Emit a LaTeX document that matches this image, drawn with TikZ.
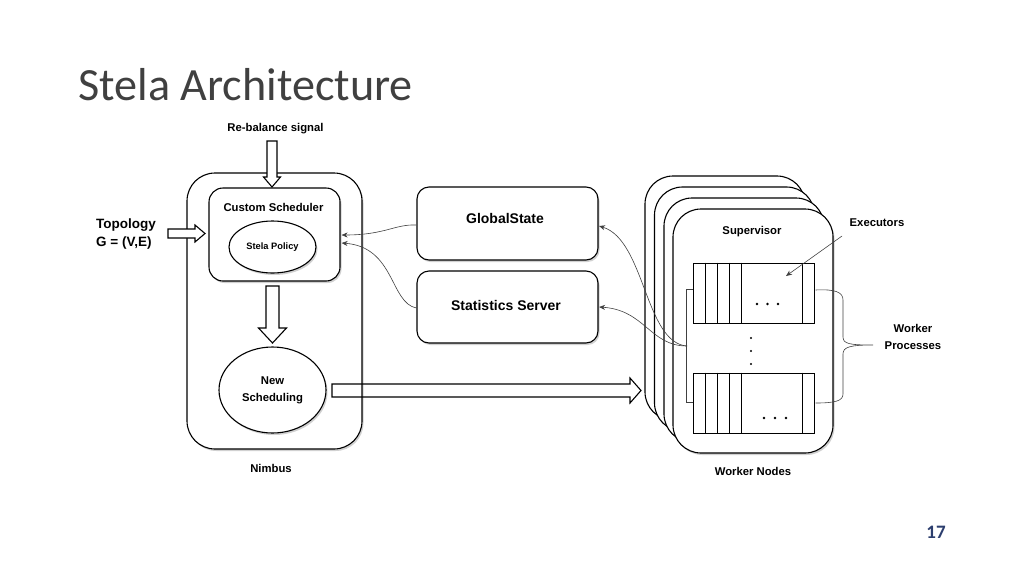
\documentclass[tikz,border=0pt]{standalone}
\usepackage{fontspec}
\setmainfont{Liberation Sans}
\newfontfamily\titlefont{Carlito}
\usetikzlibrary{shadows,arrows.meta,shapes.geometric,calc}
\definecolor{titlegray}{RGB}{64,64,64}
\definecolor{pagenum}{RGB}{44,62,110}
\begin{document}
\begin{tikzpicture}[x=1pt,y=-1pt,
  rbox/.style={draw=black, line width=1.1pt, fill=white, rounded corners=#1, inner sep=0pt,
    drop shadow={shadow xshift=1.5pt, shadow yshift=-2pt, opacity=0.3, fill=black!60}},
  rbox/.default=12pt,
  ovalbox/.style={ellipse, draw=black, line width=1.1pt, fill=white, inner sep=0pt,
    drop shadow={shadow xshift=1.5pt, shadow yshift=-2pt, opacity=0.3, fill=black!60}},
  pbox/.style={draw=black, line width=1pt, fill=white, inner sep=0pt, minimum width=121pt, minimum height=60pt},
  lbl/.style={font=\bfseries\fontsize{11.3}{17}\selectfont, inner sep=0pt, align=center},
  biglbl/.style={font=\bfseries\fontsize{14}{17}\selectfont, inner sep=0pt, align=center},
  blk/.style={draw=black, line width=1.1pt, line join=miter},
  thinline/.style={draw=black!75, line width=0.6pt},
  tipped/.style={-{Stealth[length=6pt,width=5pt]}},
  dotmark/.style={fill=black, draw=none}
]
\useasboundingbox (0,0) rectangle (1024,576);

% title and page number
\node[anchor=base west, inner sep=0pt, text=titlegray, font=\titlefont\fontsize{46.2}{50}\selectfont] (title) at (78,100) {Stela Architecture};
\node[inner sep=0pt, text=pagenum, font=\titlefont\bfseries\fontsize{19}{20}\selectfont] (pnum) at (936,532) {17};

% Nimbus
\node[rbox=28pt, minimum width=175pt, minimum height=276pt] (nimbus) at (274.5,311) {};
\node[rbox=14pt, minimum width=131pt, minimum height=93pt] (sched) at (274.5,234.5) {};
\node[lbl] (schedlbl) at (273.5,207) {Custom Scheduler};
\node[ovalbox, minimum width=87pt, minimum height=52pt, font=\bfseries\fontsize{9.3}{11}\selectfont] (policy) at (272.5,247) {Stela Policy};
\node[ovalbox, minimum width=107pt, minimum height=86pt, lbl] (news) at (272.5,390) {New\\Scheduling};
\node[lbl] (nimbuslbl) at (271,468) {Nimbus};

% Inputs
\node[lbl] (rebal) at (275.5,129) {Re-balance signal};
\node[font=\bfseries\fontsize{13.5}{18}\selectfont, inner sep=0pt, align=left, anchor=west] (topo) at (96,234) {Topology\\G = (V,E)};

% block arrows
\coordinate (ra0) at (272,141); \coordinate (ra1) at (272,187);
\draw[blk, fill=white] ($(ra0)+(-5,0)$) -- ($(ra1)+(-5,-10)$) -- ($(ra1)+(-8.5,-10)$) -- (ra1) -- ($(ra1)+(8.5,-10)$) -- ($(ra1)+(5,-10)$) -- ($(ra0)+(5,0)$) -- cycle;
\coordinate (ta0) at (168,233.5); \coordinate (ta1) at (205,233.5);
\draw[blk, fill=white] ($(ta0)+(0,-4.5)$) -- ($(ta1)+(-10,-4.5)$) -- ($(ta1)+(-10,-8.5)$) -- (ta1) -- ($(ta1)+(-10,8.5)$) -- ($(ta1)+(-10,4.5)$) -- ($(ta0)+(0,4.5)$) -- cycle;
\coordinate (da0) at (272.5,286); \coordinate (da1) at (272.5,343);
\draw[blk, fill=white] ($(da0)+(-6.5,0)$) -- ($(da1)+(-6.5,-15)$) -- ($(da1)+(-14,-15)$) -- (da1) -- ($(da1)+(14,-15)$) -- ($(da1)+(6.5,-15)$) -- ($(da0)+(6.5,0)$) -- cycle;

% middle boxes
\node[rbox=12pt, minimum width=181pt, minimum height=73pt] (global) at (507.5,223.5) {};
\node[biglbl] (globallbl) at (505,218) {GlobalState};
\node[rbox=12pt, minimum width=181pt, minimum height=72pt] (stats) at (507.5,307) {};
\node[biglbl] (statslbl) at (506,305) {Statistics Server};

% worker node stack
\foreach \i/\x/\y in {1/725/298, 2/734.5/309, 3/744/320, 4/753/331}
  \node[rbox=28pt, minimum width=160pt, minimum height=244pt] (wn\i) at (\x,\y) {};
\node[lbl] (suplbl) at (752,232) {Supervisor};
\node[pbox] (pb1) at (753.5,293) {};
\node[pbox] (pb2) at (753.5,403) {};
\foreach \b in {pb1,pb2}
  \foreach \dx in {13,25,37,49,110}
    \draw[line width=0.7pt] ([xshift=\dx pt]\b.north west) -- ([xshift=\dx pt]\b.south west);
\foreach \px in {757,767.5,778} \fill[dotmark] (\px,304) circle (1.4);
\foreach \px in {764,775,786} \fill[dotmark] (\px,418) circle (1.4);
\foreach \py in {338,351,364} \fill[dotmark] (751,\py) circle (1.2);
\node[lbl] (wnlbl) at (753,471) {Worker Nodes};
\node[lbl] (execlbl) at (877,223) {Executors};
\node[lbl] (wplbl) at (913,336.5) {Worker\\Processes};

% big arrow to worker nodes
\coordinate (ba0) at (332,390.5); \coordinate (ba1) at (641,390.5);
\draw[blk] ($(ba0)+(0,-6.5)$) -- ($(ba1)+(-11,-6.5)$) -- ($(ba1)+(-11,-12.5)$) -- (ba1) -- ($(ba1)+(-11,12.5)$) -- ($(ba1)+(-11,6.5)$) -- ($(ba0)+(0,6.5)$) -- cycle;

% connectors into custom scheduler
\draw[thinline, tipped] ($(global.west)+(0,1.5)$) .. controls (395,224) and (385,235) .. ($(sched.east)+(1,0.5)$);
\draw[thinline, tipped] ($(stats.west)+(0,1)$) .. controls (390,303) and (395,247) .. ($(sched.east)+(1,8.5)$);

% brackets around worker processes
\draw[thinline] ($(pb1.west)+(0,-4)$) -- ++(-6,0) -- ($(pb2.west)+(-6,-1)$) -- ++(6,0);
\coordinate (wp) at (687,346);
\coordinate (brtip) at (873,345);
\draw[thinline] ($(pb1.east)+(1,-3)$) .. controls (835,289) and (843,292) .. (843,300) -- (843,337)
  .. controls (843,344) and (850,345) .. (brtip)
  .. controls (850,345) and (843,347) .. (843,354) -- (843,394)
  .. controls (843,401) and (835,403) .. ($(pb2.east)+(1,0)$);

% connectors from worker processes
\draw[thinline, tipped] (wp) .. controls (645,343) and (645,240) .. ($(global.east)+(0.5,2.5)$);
\draw[thinline, tipped] (wp) .. controls (650,346) and (645,310) .. ($(stats.east)+(0.5,0)$);

% executors pointer
\coordinate (exfrom) at (842,236);
\draw[thinline, tipped] (exfrom) -- (786,276);
\end{tikzpicture}
\end{document}
